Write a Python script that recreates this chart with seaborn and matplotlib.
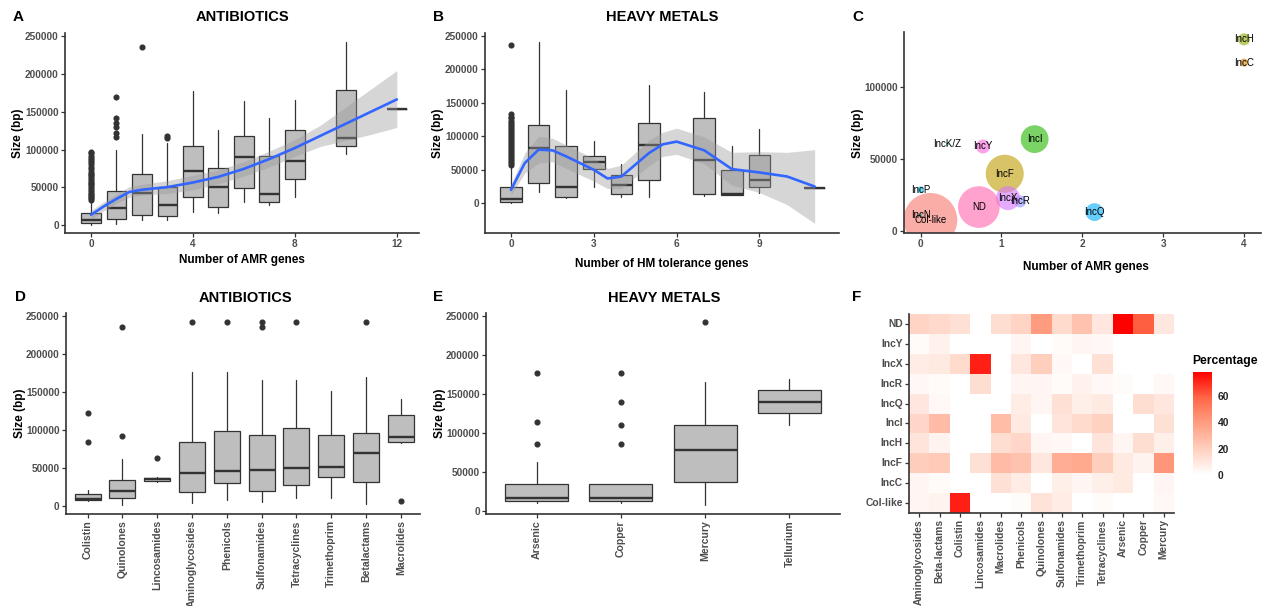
import numpy as np
import pandas as pd
import seaborn as sns
import matplotlib.pyplot as plt
from matplotlib.colors import LinearSegmentedColormap

nan = np.nan

# ---- A: plasmid size vs number of AMR genes ----
amr_n = [0, 1, 2, 3, 4, 5, 6, 7, 8, 10, 12]
amr_q1 = [3000, 8700, 13100, 11800, 38000, 24900, 49800, 30600, 60800, 104500, 153000]
amr_med = [6500, 22700, 43300, 27500, 71700, 51100, 90500, 41500, 84800, 115800, 153000]
amr_q3 = [15700, 45900, 67700, 51100, 105000, 76000, 117600, 91800, 125400, 178800, 153000]
amr_lo = [1000, 2000, 6500, 7400, 17500, 17000, 31500, 27100, 38000, 94000, 153000]
amr_hi = [31000, 100000, 121000, 108000, 177000, 125400, 163500, 142000, 165700, 241300, 153000]
amr_out = [
    [34000, 36500, 38000, 40500, 42000, 44500, 47000, 49500, 52000, 54000, 56500,
     58500, 61000, 63500, 66000, 68000, 71000, 74000, 77000, 80500, 83000, 86000,
     89000, 92000, 95000, 97000],
    [117000, 122000, 130000, 135000, 141000, 169000],
    [235600],
    [115000, 117500],
    [], [], [], [], [], [], [],
]
amr_fit_x = [0, 0.5, 1, 1.5, 2, 3, 4, 5, 6, 7, 8, 9, 10, 11, 12]
amr_fit = [14000, 25000, 35000, 44000, 47000, 50500, 56500, 64000, 74500, 87500,
           102000, 118000, 134000, 150000, 166000]
amr_fit_lo = [8000, 19000, 29000, 37000, 40000, 42000, 47000, 55000, 65000, 77000,
              91000, 104000, 112000, 120000, 129000]
amr_fit_hi = [20000, 31000, 41000, 51000, 54000, 59000, 66000, 73000, 84000, 98000,
              113000, 132000, 156000, 180000, 204000]

# ---- B: plasmid size vs number of HM tolerance genes ----
hm_n = [0, 1, 2, 3, 4, 5, 7, 8, 9, 11]
hm_q1 = [2500, 30800, 9000, 50700, 13400, 34300, 13900, 12400, 23900, 22400]
hm_med = [6000, 83000, 24900, 61100, 27300, 87000, 64100, 13400, 34800, 22400]
hm_q3 = [23900, 116800, 85500, 71000, 42200, 120300, 127200, 49700, 72100, 22400]
hm_lo = [1000, 17400, 7500, 24900, 9000, 10000, 11400, 12400, 15900, 22400]
hm_hi = [55000, 241000, 169000, 93400, 58600, 176400, 165500, 86000, 110300, 22400]
hm_out = [
    [57000, 60500, 63000, 66500, 69000, 72500, 75000, 78500, 81000, 84500, 87000,
     90500, 93000, 96500, 99000, 102500, 105000, 108500, 111000, 114500, 117000,
     120500, 123000, 126500, 129000, 133000, 236000],
    [], [], [], [], [], [], [], [], [],
]
hm_fit_x = [0, 0.5, 1, 1.5, 2, 3, 3.5, 4, 5, 5.5, 6, 7, 8, 9, 10, 11]
hm_fit = [20000, 60000, 80000, 79000, 70000, 50000, 37000, 40000, 75000, 88000,
          92000, 79000, 51000, 46000, 40000, 25000]
hm_fit_lo = [12000, 45000, 60000, 62000, 52000, 33000, 22000, 22000, 56000, 70000,
             73000, 59000, 27000, 16000, -2000, -30000]
hm_fit_hi = [28000, 75000, 100000, 97000, 87000, 67000, 52000, 57000, 94000, 106000,
             112000, 99000, 76000, 77000, 76000, 80000]

# ---- C: replicon bubbles ----
inc_names = ["Col-like", "IncC", "IncF", "IncH", "IncI", "IncK/Z", "IncN", "IncP",
             "IncQ", "IncR", "IncX", "IncY", "ND"]
inc_amr = [0.12, 4.0, 1.04, 4.0, 1.41, 0.33, 0.0, 0.0, 2.15, 1.23, 1.08, 0.77, 0.72]
inc_size = [8000, 117100, 40000, 133200, 64000, 60500, 11500, 28900, 13400, 20800,
            23100, 58900, 16900]
inc_count = [300, 7, 150, 15, 80, 1, 1, 5, 33, 15, 60, 20, 180]

# ---- D: size per antibiotic class ----
ab_names = ["Colistin", "Quinolones", "Lincosamides", "Aminoglycosides", "Phenicols",
            "Sulfonamides", "Tetracyclines", "Trimethoprim", "Betalactams", "Macrolides"]
ab_q1 = [7900, 11300, 32700, 18800, 30500, 20100, 27900, 38800, 32300, 85100]
ab_med = [10000, 20100, 35800, 43200, 46700, 48000, 51000, 51900, 70300, 91600]
ab_q3 = [15700, 34500, 37500, 84600, 99500, 93800, 103400, 93800, 96000, 120000]
ab_lo = [7500, 2200, 31900, 3900, 7900, 5200, 10900, 10500, 3100, 82900]
ab_hi = [21800, 62400, 38400, 176700, 176700, 165800, 165800, 151800, 169300, 140500]
ab_out = [[84200, 123000], [92100, 235200], [63300], [241300], [241300],
          [235600, 241300], [241300], [], [241300], [7400]]

# ---- E: size per heavy metal ----
hmc_names = ["Arsenic", "Copper", "Mercury", "Tellurium"]
hmc_q1 = [12800, 13600, 37400, 125400]
hmc_med = [17000, 17000, 77800, 140300]
hmc_q3 = [34400, 34400, 110100, 155200]
hmc_lo = [10200, 10200, 8100, 110500]
hmc_hi = [62900, 34400, 165000, 169200]
hmc_out = [[86300, 114400, 176900], [86300, 110500, 140300, 176900], [241500], []]

# ---- F: percentage heatmap ----
f_rows = ["ND", "IncY", "IncX", "IncR", "IncQ", "IncI", "IncH", "IncF", "IncC", "Col-like"]
f_cols = ["Aminoglycosides", "Beta-lactams", "Colistin", "Lincosamides", "Macrolides",
          "Phenicols", "Quinolones", "Sulfonamides", "Trimethoprim", "Tetracyclines",
          "Arsenic", "Copper", "Mercury"]
f_pct = [
    [18, 16, 13, nan, 14, 18, 40, 15, 25, 10, 78, 60, 10],
    [2, 6, nan, nan, nan, 4, nan, 2, 4, 3, nan, nan, nan],
    [8, 9, 15, 72, nan, 10, 20, 3, nan, 13, nan, nan, nan],
    [3, 2, nan, 14, nan, 4, 4, 2, 6, 3, 2, nan, 3],
    [10, 3, nan, nan, nan, 8, 4, 13, 7, 9, nan, 14, 10],
    [17, 28, nan, nan, 27, 9, nan, 11, 15, 19, nan, nan, 13],
    [11, 5, nan, nan, 14, 17, 4, 3, nan, 11, 4, 14, 7],
    [21, 22, nan, 13, 28, 25, 10, 33, 35, 20, 9, 5, 42],
    [4, 2, nan, nan, 13, 8, nan, 7, 4, 7, 9, nan, 4],
    [4, 5, 72, nan, nan, 2, 12, 8, nan, 2, nan, nan, 3],
]

# ---------------------------------------------------------------
sns.set_theme(style="ticks")
plt.rcParams["font.family"] = ["Liberation Sans", "DejaVu Sans"]
plt.rcParams["font.weight"] = "bold"

W, H = 1273, 606
fig = plt.figure(figsize=(W / 100, H / 100), dpi=100)


def frac(x0, y0, x1, y1):
    return [x0 / W, 1 - y1 / H, (x1 - x0) / W, (y1 - y0) / H]


def ptext(x, y, s, **kw):
    fig.text(x / W, 1 - y / H, s, ha=kw.pop("ha", "center"), va=kw.pop("va", "center"),
             fontweight="bold", color="black", **kw)


def classic(ax, size=7.2):
    sns.despine(ax=ax)
    for s in ["left", "bottom"]:
        ax.spines[s].set_linewidth(1.2)
        ax.spines[s].set_color("#333333")
    ax.tick_params(length=3, width=0.9, color="#333333", labelsize=size,
                   labelcolor="#4d4d4d", pad=1.5)
    ax.grid(False)


def boxes(ax, pos, q1, med, q3, lo, hi, out, width=0.78):
    stats = [dict(q1=a, med=b, q3=c, whislo=d, whishi=e, fliers=f)
             for a, b, c, d, e, f in zip(q1, med, q3, lo, hi, out)]
    ax.bxp(stats, positions=pos, widths=width, patch_artist=True, showcaps=False,
           manage_ticks=False,
           boxprops=dict(facecolor="#bebebe", edgecolor="#333333", linewidth=0.9),
           medianprops=dict(color="#333333", linewidth=1.7),
           whiskerprops=dict(color="#333333", linewidth=0.9),
           flierprops=dict(marker="o", markerfacecolor="#333333",
                           markeredgecolor="#333333", markersize=3.4))


def smooth(ax, x, fit, lo, hi):
    ax.fill_between(x, lo, hi, color="#999999", alpha=0.4, linewidth=0, zorder=3)
    sns.lineplot(x=x, y=fit, ax=ax, color="#3366FF", linewidth=1.9, zorder=4)


# A
axA = fig.add_axes(frac(65, 33, 419, 233))
boxes(axA, amr_n, amr_q1, amr_med, amr_q3, amr_lo, amr_hi, amr_out)
smooth(axA, amr_fit_x, amr_fit, amr_fit_lo, amr_fit_hi)
axA.set_xlim(-1.02, 12.87)
axA.set_ylim(-10000, 253500)
axA.set_xticks([0, 4, 8, 12])
axA.set_yticks([0, 50000, 100000, 150000, 200000, 250000])
classic(axA)

# B
axB = fig.add_axes(frac(485, 33, 839, 233))
boxes(axB, hm_n, hm_q1, hm_med, hm_q3, hm_lo, hm_hi, hm_out)
smooth(axB, hm_fit_x, hm_fit, hm_fit_lo, hm_fit_hi)
axB.set_xlim(-0.94, 11.88)
axB.set_ylim(-44300, 254000)
axB.set_xticks([0, 3, 6, 9])
axB.set_yticks([0, 50000, 100000, 150000, 200000, 250000])
classic(axB)

# C
gg13 = ["#F8766D", "#E18A00", "#BE9C00", "#8CAB00", "#24B700", "#00BE70", "#00C1AB",
        "#00BBDA", "#00ACFC", "#8B93FF", "#D575FE", "#F962DD", "#FF65AC"]
axC = fig.add_axes(frac(904, 32, 1261, 233))
dfC = pd.DataFrame({"rep": inc_names, "amr": inc_amr, "size": inc_size, "n": inc_count})
sns.scatterplot(data=dfC, x="amr", y="size", hue="rep", palette=dict(zip(inc_names, gg13)),
                size="n", sizes=(5, 1500), size_norm=(1, 300), alpha=0.6,
                edgecolor="none", legend=False, ax=axC)
for name, xv, yv in zip(inc_names, inc_amr, inc_size):
    axC.text(xv, yv, name, ha="center", va="center", fontsize=7, fontweight="normal",
             color="black", zorder=5)
axC.set_xlim(-0.206, 4.21)
axC.set_ylim(-1100, 138300)
axC.set_xticks([0, 1, 2, 3, 4])
axC.set_yticks([0, 50000, 100000])
axC.set_xlabel("")
axC.set_ylabel("")
classic(axC)

# D
axD = fig.add_axes(frac(66, 313, 420, 514))
boxes(axD, list(range(len(ab_names))), ab_q1, ab_med, ab_q3, ab_lo, ab_hi, ab_out, 0.75)
axD.set_xlim(-0.62, 9.55)
axD.set_ylim(-9900, 253500)
axD.set_xticks(range(len(ab_names)))
axD.set_xticklabels(ab_names, rotation=90, va="top", ha="center")
axD.set_yticks([0, 50000, 100000, 150000, 200000, 250000])
classic(axD)
axD.tick_params(axis="x", labelsize=7.6)

# E
axE = fig.add_axes(frac(486, 313, 840, 514))
boxes(axE, list(range(len(hmc_names))), hmc_q1, hmc_med, hmc_q3, hmc_lo, hmc_hi, hmc_out, 0.75)
axE.set_xlim(-0.6, 3.6)
axE.set_ylim(-3300, 253400)
axE.set_xticks(range(len(hmc_names)))
axE.set_xticklabels(hmc_names, rotation=90, va="top", ha="center")
axE.set_yticks([0, 50000, 100000, 150000, 200000, 250000])
classic(axE)
axE.tick_params(axis="x", labelsize=7.6)

# F
axF = fig.add_axes(frac(909, 314, 1174, 513))
cax = fig.add_axes(frac(1193, 372, 1212, 475))
cmap = LinearSegmentedColormap.from_list(
    "wr", ["#FFFFFF", "#FFD0BF", "#FF9E82", "#FF6746", "#FF0000"])
dfF = pd.DataFrame(f_pct, index=f_rows, columns=f_cols)
sns.heatmap(dfF, cmap=cmap, vmin=0, vmax=78, ax=axF, cbar_ax=cax)
axF.set_xticklabels(f_cols, rotation=90)
axF.set_yticklabels(f_rows, rotation=0)
classic(axF, size=7.4)
axF.spines["left"].set_visible(True)
axF.spines["bottom"].set_visible(True)
cax.set_yticks([0, 20, 40, 60])
cax.tick_params(length=3, color="white", width=0.8, direction="in",
                labelsize=7.4, labelcolor="#222222", pad=4)
for s in cax.spines.values():
    s.set_visible(False)
ptext(1225, 361, "Percentage", fontsize=8.7)

# panel letters, titles and axis labels
for lab, x, y in [("A", 18, 17), ("B", 438, 17), ("C", 858, 17),
                  ("D", 20, 297), ("E", 438, 297), ("F", 857, 297)]:
    ptext(x, y, lab, fontsize=11)
ptext(242, 17, "ANTIBIOTICS", fontsize=10.5)
ptext(662, 17, "HEAVY METALS", fontsize=10.5)
ptext(245, 298, "ANTIBIOTICS", fontsize=10.5)
ptext(664, 298, "HEAVY METALS", fontsize=10.5)
ptext(242, 260, "Number of AMR genes", fontsize=8.5)
ptext(662, 264, "Number of HM tolerance genes", fontsize=8.5)
ptext(1086, 267, "Number of AMR genes", fontsize=8.5)
for x, y in [(18, 133), (438, 133), (858, 133), (20, 413), (440, 413)]:
    ptext(x, y, "Size (bp)", fontsize=8.5, rotation=90)

fig.savefig("out.png", dpi=100)
